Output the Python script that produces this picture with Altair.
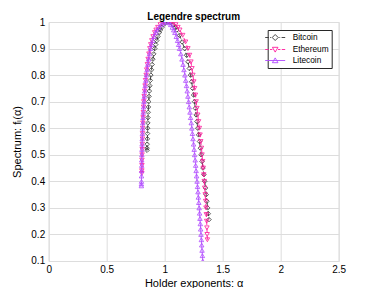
import altair as alt
import pandas as pd

series_names = ["Bitcoin", "Ethereum", "Litecoin"]

btc_f = [0.517, 0.525, 0.54, 0.56, 0.58, 0.60, 0.62, 0.64, 0.66, 0.68, 0.70, 0.72, 0.74, 0.76, 0.78, 0.80, 0.82, 0.84, 0.86, 0.88, 0.90, 0.915, 0.93, 0.945, 0.96, 0.97, 0.98, 0.99, 0.997,
         1.0,
         0.997, 0.99, 0.98, 0.97, 0.95, 0.925, 0.9, 0.875, 0.85, 0.825, 0.8, 0.775, 0.75, 0.725, 0.7, 0.675, 0.65, 0.625, 0.6, 0.575, 0.55, 0.525, 0.5, 0.475, 0.45, 0.425, 0.4, 0.375, 0.35, 0.325, 0.3, 0.278, 0.256]
btc_alpha = [0.848, 0.848, 0.849, 0.851, 0.852, 0.853, 0.855, 0.856, 0.858, 0.860, 0.862, 0.865, 0.868, 0.872, 0.876, 0.881, 0.886, 0.892, 0.898, 0.906, 0.915, 0.923, 0.932, 0.942, 0.954, 0.963, 0.976, 0.990, 1.006,
             1.028,
             1.052, 1.071, 1.090, 1.105, 1.128, 1.150, 1.171, 1.188, 1.200, 1.212, 1.222, 1.232, 1.241, 1.249, 1.257, 1.264, 1.271, 1.278, 1.285, 1.292, 1.300, 1.307, 1.314, 1.322, 1.330, 1.338, 1.345, 1.352, 1.358, 1.364, 1.370, 1.376, 1.382]

eth_f = [0.43, 0.44, 0.46, 0.48, 0.50, 0.52, 0.54, 0.56, 0.58, 0.60, 0.62, 0.64, 0.66, 0.68, 0.70, 0.72, 0.74, 0.76, 0.78, 0.80, 0.82, 0.84, 0.86, 0.88, 0.90, 0.915, 0.93, 0.945, 0.96, 0.97, 0.98, 0.99, 0.997,
         1.0,
         0.997, 0.99, 0.98, 0.97, 0.95, 0.925, 0.9, 0.875, 0.85, 0.825, 0.8, 0.775, 0.75, 0.725, 0.7, 0.675, 0.65, 0.625, 0.6, 0.575, 0.55, 0.525, 0.5, 0.475, 0.45, 0.425, 0.4, 0.375, 0.35, 0.325, 0.3, 0.275, 0.25, 0.225, 0.2, 0.18]
eth_alpha = [0.803, 0.803, 0.804, 0.804, 0.805, 0.806, 0.807, 0.808, 0.809, 0.810, 0.812, 0.814, 0.816, 0.818, 0.820, 0.823, 0.827, 0.831, 0.835, 0.840, 0.845, 0.851, 0.857, 0.864, 0.872, 0.880, 0.889, 0.900, 0.914, 0.926, 0.941, 0.962, 0.990,
             1.045,
             1.075, 1.095, 1.114, 1.130, 1.155, 1.180, 1.200, 1.214, 1.226, 1.235, 1.243, 1.251, 1.258, 1.265, 1.271, 1.278, 1.285, 1.292, 1.299, 1.305, 1.311, 1.317, 1.322, 1.327, 1.332, 1.337, 1.341, 1.345, 1.349, 1.353, 1.356, 1.359, 1.362, 1.364, 1.366, 1.368]

ltc_f = [0.383, 0.39, 0.40, 0.42, 0.44, 0.46, 0.48, 0.50, 0.52, 0.54, 0.56, 0.58, 0.60, 0.62, 0.64, 0.66, 0.68, 0.70, 0.72, 0.74, 0.76, 0.78, 0.80, 0.82, 0.84, 0.86, 0.88, 0.90, 0.915, 0.93, 0.945, 0.96, 0.97, 0.98, 0.99, 0.997,
         1.0,
         0.997, 0.99, 0.98, 0.97, 0.96, 0.945, 0.93, 0.915, 0.9, 0.88, 0.86, 0.84, 0.82, 0.80, 0.78, 0.76, 0.74, 0.72, 0.70, 0.68, 0.66, 0.64, 0.62, 0.60, 0.58, 0.56, 0.54, 0.52, 0.50, 0.48, 0.46, 0.44, 0.42, 0.40, 0.38, 0.36, 0.34, 0.32, 0.30, 0.28, 0.26, 0.24, 0.22, 0.20, 0.18, 0.16, 0.14, 0.12, 0.10, 0.08]
ltc_alpha = [0.799, 0.799, 0.800, 0.800, 0.801, 0.802, 0.802, 0.803, 0.804, 0.805, 0.806, 0.808, 0.809, 0.811, 0.813, 0.815, 0.818, 0.821, 0.824, 0.828, 0.832, 0.837, 0.842, 0.848, 0.854, 0.861, 0.869, 0.878, 0.886, 0.896, 0.907, 0.922, 0.933, 0.950, 0.970, 0.990,
             1.018,
             1.038, 1.052, 1.066, 1.078, 1.088, 1.100, 1.111, 1.120, 1.128, 1.139, 1.149, 1.158, 1.166, 1.174, 1.181, 1.188, 1.194, 1.200, 1.206, 1.212, 1.218, 1.223, 1.229, 1.234, 1.239, 1.244, 1.249, 1.254, 1.258, 1.263, 1.267, 1.271, 1.275, 1.279, 1.283, 1.287, 1.290, 1.294, 1.297, 1.301, 1.304, 1.307, 1.310, 1.313, 1.316, 1.319, 1.322, 1.325, 1.328, 1.331]

x_ticks = [0, 0.5, 1, 1.5, 2, 2.5]
y_ticks = [0.1, 0.2, 0.3, 0.4, 0.5, 0.6, 0.7, 0.8, 0.9, 1.0]

rows = []
for name, a_list, f_list in zip(series_names, [btc_alpha, eth_alpha, ltc_alpha], [btc_f, eth_f, ltc_f]):
    for i, (a, f) in enumerate(zip(a_list, f_list)):
        rows.append({"series": name, "alpha": a, "f": f, "idx": i})
df = pd.DataFrame(rows)

colors = ["#333333", "#ff1a9c", "#b04aff"]
dashes = [[5, 2, 1, 2], [5, 3], [1, 0]]
shapes = ["diamond", "triangle-down", "triangle-up"]

# legend symbol paths (unit = 4px with symbolSize 64): line + marker
legend_paths = [
    "M-2.5,0H-1.6M-1.25,0H-1.05M-0.8,0H-0.75M0,-0.75L0.75,0L0,0.75L-0.75,0ZM0.75,0H0.8M1.05,0H1.25M1.6,0H2.5",
    "M-2.5,0H-1.65M-1.3,0H-0.7M-0.7,-0.55L0.7,-0.55L0,0.65ZM0.7,0H1.3M1.65,0H2.5",
    "M-2.5,0H2.5M-0.7,0.55L0.7,0.55L0,-0.65Z",
]

FONT = "Liberation Sans"
TXT = "#262626"

xscale = alt.Scale(domain=[0, 2.5], nice=False, zero=False)
yscale = alt.Scale(domain=[0.1, 1.0], nice=False, zero=False)
xaxis = alt.Axis(values=x_ticks, format="~g", title="Holder exponents: α", labelFlush=False,
                 labelOverlap=False, ticks=False, domain=False, labelPadding=4, titlePadding=3,
                 titleFontWeight="normal")
yaxis = alt.Axis(values=y_ticks, format="~g", title="Spectrum: fₗ(α)", labelFlush=False,
                 labelOverlap=False, ticks=False, domain=False, labelPadding=4, titlePadding=8,
                 titleFontWeight="normal")

X = alt.X("alpha:Q", scale=xscale, axis=xaxis)
Y = alt.Y("f:Q", scale=yscale, axis=yaxis)

base = alt.Chart(df)
layers = []
for name, col, dash, shp in zip(series_names, colors, dashes, shapes):
    sub = base.transform_filter(alt.datum.series == name)
    line = sub.mark_line(color=col, strokeDash=dash, strokeWidth=0.9, clip=True).encode(
        x=X, y=Y, order=alt.Order("idx:Q"))
    pts = sub.mark_point(shape=shp, color=col, size=20, strokeWidth=0.8, filled=False,
                         opacity=1, clip=True).encode(x=X, y=Y)
    layers += [line, pts]

leg = alt.Legend(title=None, orient="none", legendX=219, legendY=8, padding=3,
                 fillColor="white", strokeColor="#262626", symbolSize=64,
                 symbolStrokeWidth=0.9, symbolOpacity=1, symbolOffset=0,
                 labelFontSize=8.3, labelFont=FONT, labelColor="#000000", labelOffset=13,
                 rowPadding=1, cornerRadius=0)
legend_layer = base.transform_filter("datum.f > 5").mark_point(filled=False, opacity=1).encode(
    x=X, y=Y,
    color=alt.Color("series:N", scale=alt.Scale(domain=series_names, range=colors), legend=leg),
    shape=alt.Shape("series:N", scale=alt.Scale(domain=series_names, range=legend_paths), legend=leg),
)

chart = alt.layer(*layers, legend_layer).properties(
    width=290, height=239,
    title=alt.TitleParams("Legendre spectrum", fontSize=10, fontWeight="bold", font=FONT,
                          color="#000000", offset=0, dy=5),
    autosize=alt.AutoSizeParams(type="none"),
    padding={"left": 40.7, "top": 14, "right": 20, "bottom": 27},
).configure_view(stroke="#262626", strokeWidth=0.8).configure_axis(
    labelFont=FONT, labelFontSize=9, labelColor=TXT, titleFont=FONT, titleFontSize=10,
    titleColor=TXT, titleFontWeight="normal", gridColor="#e3e3e3", gridWidth=0.8,
).configure(background="white")

chart.save("out.html", embed_options={"renderer": "svg", "actions": False})
